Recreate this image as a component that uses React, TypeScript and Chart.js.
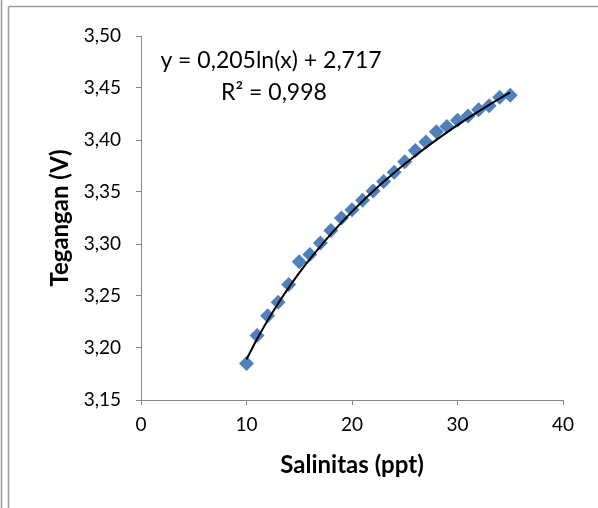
import React, { useEffect, useRef } from "react";
import { Chart, registerables } from "chart.js";

Chart.register(...registerables);

const SALINITY = [10, 11, 12, 13, 14, 15, 16, 17, 18, 19, 20, 21, 22, 23, 24, 25, 26, 27, 28, 29, 30, 31, 32, 33, 34, 35];
const VOLTAGE = [
  3.185, 3.212, 3.231, 3.244, 3.261, 3.283, 3.29, 3.301, 3.313, 3.325, 3.333, 3.342, 3.351,
  3.36, 3.369, 3.379, 3.39, 3.398, 3.408, 3.413, 3.419, 3.423, 3.429, 3.433, 3.441, 3.443,
];
const X_TICKS = [0, 10, 20, 30, 40];
const Y_TICKS = [3.15, 3.2, 3.25, 3.3, 3.35, 3.4, 3.45, 3.5];
const TREND_SLOPE = 0.205;
const TREND_INTERCEPT = 2.717;
const EQUATION_LINES = ["y = 0,205ln(x) + 2,717", "R² = 0,998"];
const X_TITLE = "Salinitas (ppt)";
const Y_TITLE = "Tegangan (V)";

const FONT = "Lato, 'Open Sans', sans-serif";
const AXIS_GRAY = "#868686";

export default function App() {
  const ref = useRef<HTMLCanvasElement | null>(null);

  useEffect(() => {
    document.body.style.margin = "0";
    const canvas = ref.current;
    if (!canvas) return;

    const trend = SALINITY.map((x) => ({ x, y: TREND_SLOPE * Math.log(x) + TREND_INTERCEPT }));
    const points = SALINITY.map((x, i) => ({ x, y: VOLTAGE[i] }));

    const framePlugin = {
      id: "frame",
      beforeDraw(chart: any) {
        const ctx = chart.ctx;
        ctx.save();
        ctx.strokeStyle = "#9a9a9a";
        ctx.lineWidth = 1.5;
        ctx.beginPath();
        ctx.moveTo(1.5, 0);
        ctx.lineTo(1.5, chart.height);
        ctx.moveTo(8.5, 6.5);
        ctx.lineTo(8.5, chart.height);
        ctx.moveTo(8.5, 6.5);
        ctx.lineTo(chart.width, 6.5);
        ctx.stroke();
        ctx.restore();
      },
    };

    const equationPlugin = {
      id: "equation",
      afterDatasetsDraw(chart: any) {
        const ctx = chart.ctx;
        const a = chart.chartArea;
        ctx.save();
        ctx.fillStyle = "#000";
        ctx.font = `23px ${FONT}`;
        ctx.textAlign = "center";
        ctx.textBaseline = "middle";
        ctx.fillText(EQUATION_LINES[0], a.left + 130, a.top + 25);
        ctx.fillText(EQUATION_LINES[1], a.left + 133, a.top + 57);
        ctx.restore();
      },
    };

    const chart = new Chart(canvas, {
      type: "scatter",
      data: {
        datasets: [
          {
            label: "trend",
            data: trend,
            showLine: true,
            borderColor: "#000",
            borderWidth: 2,
            pointRadius: 0,
            cubicInterpolationMode: "monotone",
            order: 0,
          } as any,
          {
            label: "data",
            data: points,
            pointStyle: "rectRot",
            pointRadius: 7.5,
            backgroundColor: "#4F81BD",
            borderColor: "#4F81BD",
            borderWidth: 0,
            order: 1,
          },
        ],
      },
      options: {
        animation: false,
        responsive: false,
        layout: { padding: { left: 0, right: 35, top: 36, bottom: 0 } },
        plugins: { legend: { display: false }, tooltip: { enabled: false } },
        scales: {
          x: {
            type: "linear",
            min: 0,
            max: 40,
            afterBuildTicks: (s: any) => {
              s.ticks = X_TICKS.map((v) => ({ value: v }));
            },
            afterFit: (s: any) => {
              s.height = 108;
            },
            grid: { drawOnChartArea: false, drawTicks: true, tickLength: 5, color: AXIS_GRAY },
            border: { color: AXIS_GRAY, width: 1 },
            ticks: {
              color: "#000",
              font: { family: FONT, size: 19 },
              padding: 8,
              maxRotation: 0,
              callback: (v: any) => String(v),
            },
            title: {
              display: true,
              text: X_TITLE,
              color: "#000",
              font: { family: FONT, size: 24, weight: "bold" },
              padding: { top: 0, bottom: 28 },
            },
          },
          y: {
            type: "linear",
            min: 3.15,
            max: 3.5,
            afterBuildTicks: (s: any) => {
              s.ticks = Y_TICKS.map((v) => ({ value: v }));
            },
            afterFit: (s: any) => {
              s.width = 141;
            },
            grid: { drawOnChartArea: false, drawTicks: true, tickLength: 5, color: AXIS_GRAY },
            border: { color: AXIS_GRAY, width: 1 },
            ticks: {
              color: "#000",
              font: { family: FONT, size: 19 },
              padding: 15,
              callback: (v: any) => Number(v).toFixed(2).replace(".", ","),
            },
            title: {
              display: true,
              text: Y_TITLE,
              color: "#000",
              font: { family: FONT, size: 24, weight: "bold" },
              padding: { top: 46, bottom: 0 },
            },
          },
        },
      },
      plugins: [framePlugin, equationPlugin],
    });

    return () => chart.destroy();
  }, []);

  return (
    <div style={{ position: "absolute", left: 0, top: 0, width: 598, height: 508, background: "#fff" }}>
      <canvas ref={ref} width={598} height={508} style={{ display: "block", width: 598, height: 508 }} />
    </div>
  );
}
